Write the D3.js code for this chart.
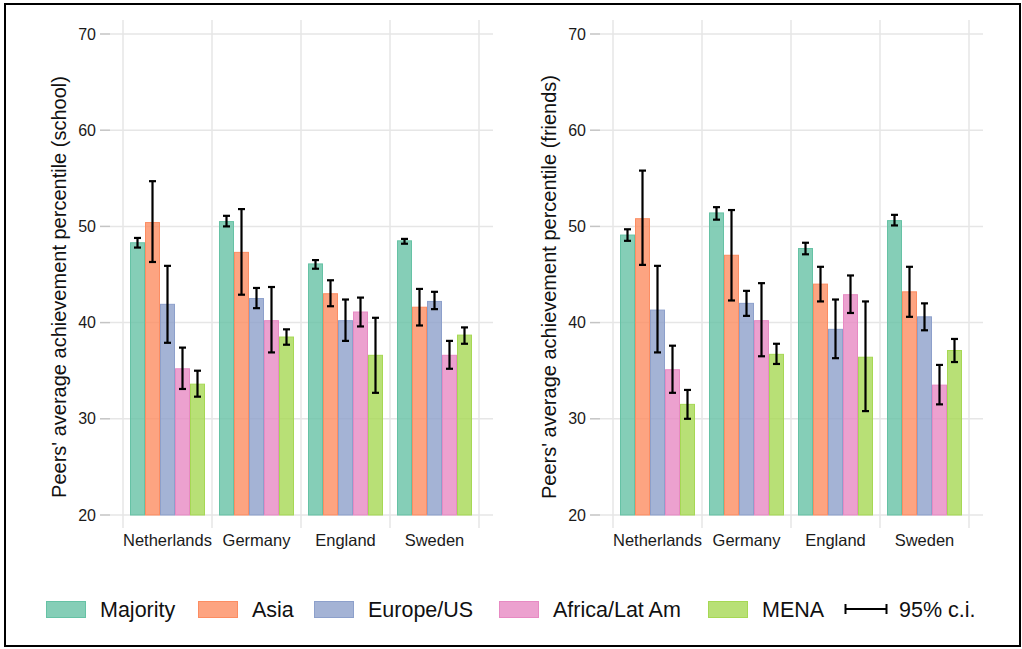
<!DOCTYPE html>
<html>
<head>
<meta charset="utf-8">
<script src="https://cdn.jsdelivr.net/npm/d3@7"></script>
<style>
  html, body { margin: 0; padding: 0; background: #fff; }
  svg { display: block; font-family: "Liberation Sans", Arial, Helvetica, sans-serif; }
</style>
</head>
<body>
<svg id="chart" width="1022" height="649"></svg>
<script>
// Countries and origin groups
const countries = ["Netherlands", "Germany", "England", "Sweden"];
const groups = ["Majority", "Asia", "Europe/US", "Africa/Lat Am", "MENA"];
const yTicks = [20, 30, 40, 50, 60, 70];

// Peers' average achievement percentile — school peers
// rows = countries, columns = groups
const schoolMean = [
  [48.3, 50.4, 41.9, 35.2, 33.6],
  [50.5, 47.3, 42.5, 40.2, 38.5],
  [46.1, 43.0, 40.2, 41.1, 36.6],
  [48.5, 41.6, 42.2, 36.6, 38.7]
];
const schoolLow = [
  [47.8, 46.3, 37.9, 33.1, 32.3],
  [50.0, 42.9, 41.5, 36.9, 37.7],
  [45.6, 41.7, 38.1, 39.6, 32.7],
  [48.2, 39.7, 41.4, 35.2, 37.8]
];
const schoolHigh = [
  [48.8, 54.7, 45.9, 37.4, 35.0],
  [51.1, 51.8, 43.6, 43.7, 39.3],
  [46.5, 44.4, 42.4, 42.6, 40.5],
  [48.7, 43.5, 43.2, 38.1, 39.5]
];

// Peers' average achievement percentile — friends
const friendsMean = [
  [49.1, 50.8, 41.3, 35.1, 31.5],
  [51.4, 47.0, 42.0, 40.2, 36.7],
  [47.7, 44.0, 39.3, 42.9, 36.4],
  [50.6, 43.2, 40.6, 33.5, 37.1]
];
const friendsLow = [
  [48.5, 46.0, 36.9, 32.7, 30.0],
  [50.7, 42.3, 40.7, 36.5, 35.7],
  [47.1, 42.2, 36.3, 41.0, 30.8],
  [50.1, 40.6, 39.2, 31.5, 35.9]
];
const friendsHigh = [
  [49.7, 55.8, 45.9, 37.6, 33.0],
  [52.0, 51.7, 43.3, 44.1, 37.8],
  [48.3, 45.8, 42.4, 44.9, 42.2],
  [51.2, 45.8, 42.0, 35.6, 38.3]
];

const panels = [
  { title: "Peers' average achievement percentile (school)", mean: schoolMean, low: schoolLow, high: schoolHigh },
  { title: "Peers' average achievement percentile (friends)", mean: friendsMean, low: friendsLow, high: friendsHigh }
];

const strokeColors = ["#66c2a5", "#fc8d62", "#8da0cb", "#e78ac3", "#a6d854"];
const color = d3.scaleOrdinal().domain(groups).range(strokeColors);

const svg = d3.select("#chart");

// outer frame
svg.append("rect")
  .attr("x", 5).attr("y", 4)
  .attr("width", 1015).attr("height", 642)
  .attr("fill", "none").attr("stroke", "#000").attr("stroke-width", 2);

const gridColor = "#e6e6e6";
const tickColor = "#c4c4c4";

panels.forEach((p, pi) => {
  const ox = pi * 490;
  const left = 110 + ox, right = 493 + ox;
  const top = 20, bottom = 528;
  const g = svg.append("g");

  const y = d3.scaleLinear().domain([20, 70]).range([515, 34]);
  const x = d3.scaleBand().domain(countries).range([123 + ox, 479 + ox]).paddingInner(0).paddingOuter(0);
  const xs = d3.scaleBand().domain(groups).range([0, x.bandwidth()]).paddingInner(0).paddingOuter(0.467);

  // horizontal grid + tick marks
  g.selectAll(".hgrid").data(yTicks).join("line")
    .attr("x1", left).attr("x2", right)
    .attr("y1", d => y(d)).attr("y2", d => y(d))
    .attr("stroke", gridColor).attr("stroke-width", 1.5);
  g.selectAll(".ytick").data(yTicks).join("line")
    .attr("x1", left - 10).attr("x2", left)
    .attr("y1", d => y(d)).attr("y2", d => y(d))
    .attr("stroke", tickColor).attr("stroke-width", 1.5);
  g.selectAll(".ylab").data(yTicks).join("text")
    .attr("x", left - 14).attr("y", d => y(d))
    .attr("dy", "0.35em")
    .attr("text-anchor", "end")
    .attr("font-size", 16).attr("fill", "#1a1a1a")
    .text(d => d);

  // vertical grid at band edges
  const edges = countries.map(c => x(c)).concat([x(countries[countries.length - 1]) + x.bandwidth()]);
  g.selectAll(".vgrid").data(edges).join("line")
    .attr("x1", d => d).attr("x2", d => d)
    .attr("y1", top).attr("y2", bottom)
    .attr("stroke", gridColor).attr("stroke-width", 1.5);

  // x labels
  g.selectAll(".xlab").data(countries).join("text")
    .attr("x", d => x(d) + x.bandwidth() / 2)
    .attr("y", 546)
    .attr("text-anchor", "middle")
    .attr("font-size", 16.5).attr("fill", "#1a1a1a")
    .text(d => d);

  // y axis title
  g.append("text")
    .attr("transform", `translate(${66 + ox},287) rotate(-90)`)
    .attr("text-anchor", "middle")
    .attr("font-size", 20).attr("fill", "#111")
    .text(p.title);

  // bars
  countries.forEach((c, ci) => {
    const cg = g.append("g").attr("transform", `translate(${x(c)},0)`);
    groups.forEach((grp, gi) => {
      const v = p.mean[ci][gi];
      cg.append("rect")
        .attr("x", xs(grp) + 0.5)
        .attr("width", xs.bandwidth() - 1)
        .attr("y", y(v))
        .attr("height", y(20) - y(v))
        .attr("fill", color(grp)).attr("fill-opacity", 0.8)
        .attr("stroke", color(grp)).attr("stroke-width", 1);
    });
    // error bars
    groups.forEach((grp, gi) => {
      const cx = xs(grp) + xs.bandwidth() / 2;
      const lo = y(p.low[ci][gi]), hi = y(p.high[ci][gi]);
      const cw = 3.5;
      const eg = cg.append("g").attr("stroke", "#000").attr("stroke-width", 2.2);
      eg.append("line").attr("x1", cx).attr("x2", cx).attr("y1", lo).attr("y2", hi);
      eg.append("line").attr("x1", cx - cw).attr("x2", cx + cw).attr("y1", lo).attr("y2", lo);
      eg.append("line").attr("x1", cx - cw).attr("x2", cx + cw).attr("y1", hi).attr("y2", hi);
    });
  });
});

// legend
const legendX = [46, 198, 314, 499, 708];
const lg = svg.append("g");
groups.forEach((grp, i) => {
  lg.append("rect")
    .attr("x", legendX[i] + 0.5).attr("y", 601.5)
    .attr("width", 39).attr("height", 16)
    .attr("fill", color(grp)).attr("fill-opacity", 0.8)
    .attr("stroke", color(grp)).attr("stroke-width", 1);
  lg.append("text")
    .attr("x", legendX[i] + 54).attr("y", 617)
    .attr("font-size", 21.5).attr("fill", "#111")
    .text(grp);
});
const ci = lg.append("g").attr("stroke", "#000").attr("stroke-width", 2);
ci.append("line").attr("x1", 845).attr("x2", 887).attr("y1", 609).attr("y2", 609);
ci.append("line").attr("x1", 845.5).attr("x2", 845.5).attr("y1", 604).attr("y2", 614);
ci.append("line").attr("x1", 886.5).attr("x2", 886.5).attr("y1", 604).attr("y2", 614);
lg.append("text")
  .attr("x", 899).attr("y", 617)
  .attr("font-size", 21.5).attr("fill", "#111")
  .text("95% c.i.");
</script>
</body>
</html>
